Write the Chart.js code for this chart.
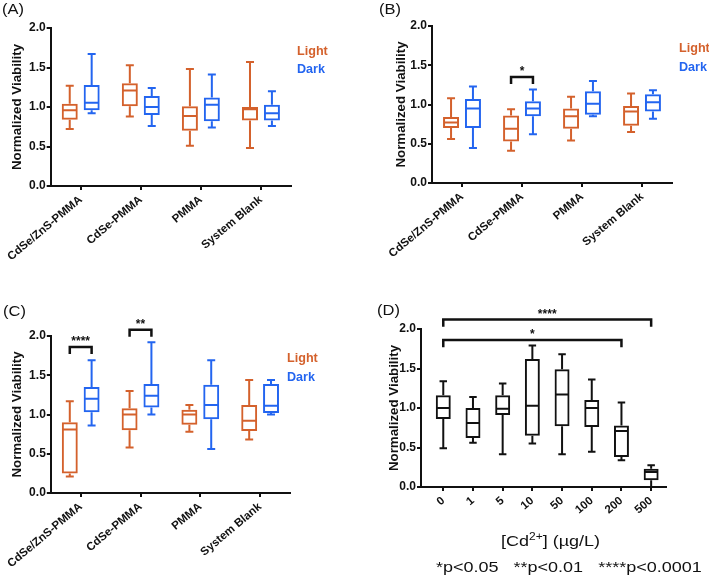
<!DOCTYPE html>
<html>
<head>
<meta charset="utf-8">
<script src="https://cdn.jsdelivr.net/npm/chart.js@4"></script>
<style>
body { margin: 0; background: #fff; width: 709px; height: 579px; position: relative; overflow: hidden;
       font-family: "Liberation Sans", Arial, sans-serif; color: #111; }
canvas { position: absolute; }
.t { position: absolute; white-space: nowrap; line-height: 18px; }
.tag { font-size: 15px; transform: scaleX(1.1); transform-origin: left center; }
.lg { font-size: 12px; font-weight: bold; transform: scaleX(1.05); transform-origin: left center; }
.wide { font-size: 15px; transform: scaleX(1.2); transform-origin: left center; }
.light { color: #d4612c; }
.dark { color: #2365f0; }
</style>
</head>
<body>
<canvas id="chartA" width="354" height="290" style="left:0;top:0"></canvas>
<canvas id="chartB" width="355" height="290" style="left:354px;top:0"></canvas>
<canvas id="chartC" width="354" height="289" style="left:0;top:290px"></canvas>
<canvas id="chartD" width="355" height="289" style="left:354px;top:290px"></canvas>

<div class="t tag" style="left:2px;top:0">(A)</div>
<div class="t tag" style="left:379px;top:0">(B)</div>
<div class="t tag" style="left:3px;top:302px">(C)</div>
<div class="t tag" style="left:377px;top:301px">(D)</div>

<div class="t lg light" style="left:297px;top:42px">Light</div>
<div class="t lg dark" style="left:297px;top:60px">Dark</div>
<div class="t lg light" style="left:679px;top:39px">Light</div>
<div class="t lg dark" style="left:679px;top:58px">Dark</div>
<div class="t lg light" style="left:287px;top:349px">Light</div>
<div class="t lg dark" style="left:287px;top:368px">Dark</div>

<div class="t wide" style="left:501px;top:528px">[Cd<sup style="font-size:10px">2+</sup>] (µg/L)</div>
<div class="t wide" style="left:436px;top:558px">*p&lt;0.05&nbsp;&nbsp;&nbsp;**p&lt;0.01&nbsp;&nbsp;&nbsp;****p&lt;0.0001</div>

<script>
const groups = ["CdSe/ZnS-PMMA", "CdSe-PMMA", "PMMA", "System Blank"];
const doses = ["0", "1", "5", "10", "50", "100", "200", "500"];
const yTicks = [0, 0.5, 1.0, 1.5, 2.0];

// each box: [min, q1, median, q3, max]
const aLight = [[0.72, 0.84, 0.96, 1.04, 1.27], [0.88, 1.01, 1.21, 1.30, 1.53], [0.51, 0.70, 0.885, 1.01, 1.48], [0.48, 0.83, 0.97, 1.00, 1.57]];
const aDark  = [[0.92, 0.96, 1.055, 1.28, 1.67], [0.76, 0.90, 1.00, 1.14, 1.24], [0.74, 0.82, 1.03, 1.12, 1.41], [0.76, 0.83, 0.92, 1.03, 1.20]];
const bLight = [[0.56, 0.70, 0.77, 0.84, 1.08], [0.41, 0.53, 0.69, 0.86, 0.94], [0.54, 0.69, 0.85, 0.95, 1.10], [0.65, 0.73, 0.91, 0.98, 1.14]];
const bDark  = [[0.445, 0.70, 0.95, 1.07, 1.23], [0.62, 0.85, 0.95, 1.04, 1.19], [0.85, 0.87, 1.01, 1.17, 1.30], [0.82, 0.91, 1.03, 1.13, 1.18]];
const cLight = [[0.21, 0.25, 0.81, 0.90, 1.17], [0.58, 0.80, 1.00, 1.08, 1.30], [0.78, 0.87, 1.00, 1.06, 1.12], [0.68, 0.79, 0.92, 1.12, 1.44]];
const cDark  = [[0.86, 1.03, 1.20, 1.35, 1.69], [1.00, 1.09, 1.24, 1.39, 1.92], [0.56, 0.94, 1.12, 1.38, 1.69], [1.00, 1.02, 1.11, 1.39, 1.44]];
const dCd    = [[0.49, 0.86, 1.00, 1.16, 1.34], [0.56, 0.62, 0.81, 1.00, 1.14], [0.415, 0.91, 0.99, 1.16, 1.31], [0.55, 0.65, 1.03, 1.62, 1.79],
                [0.415, 0.77, 1.17, 1.49, 1.68], [0.445, 0.76, 1.00, 1.10, 1.36], [0.34, 0.38, 0.71, 0.78, 1.07], [0.0, 0.085, 0.19, 0.23, 0.275]];

// significance brackets: from/to = [datasetIndex, index]
const bSig = [{ from: [0, 1], to: [1, 1], top: 1.35, drop: 1.26, label: "*" }];
const cSig = [{ from: [0, 0], to: [1, 0], top: 1.86, drop: 1.77, label: "****" },
              { from: [0, 1], to: [1, 1], top: 2.08, drop: 1.99, label: "**" }];
const dSig = [{ from: [0, 0], to: [0, 7], top: 2.12, drop: 2.03, label: "****" },
              { from: [0, 0], to: [0, 6], top: 1.86, drop: 1.77, label: "*" }];

const ink = "#111";
const orange = "#d4612c";
const blue = "#2365f0";
const sigFor = { chartA: [], chartB: bSig, chartC: cSig, chartD: dSig };

Chart.defaults.font.family = '"Liberation Sans", Arial, sans-serif';

const boxPlugin = {
    id: "boxWhisker",
    afterDatasetsDraw(chart) {
        const ctx = chart.ctx;
        const y = chart.scales.y;
        chart.data.datasets.forEach((ds, di) => {
            const meta = chart.getDatasetMeta(di);
            ctx.save();
            ctx.strokeStyle = ds.borderColor;
            ctx.lineWidth = 2;
            meta.data.forEach((bar, i) => {
                const [mn, q1, md, q3, mx] = ds.stats[i];
                const half = bar.width / 2;
                const cap = bar.width * 0.25;
                ctx.beginPath();
                ctx.moveTo(bar.x, y.getPixelForValue(q3));
                ctx.lineTo(bar.x, y.getPixelForValue(mx));
                ctx.moveTo(bar.x - cap, y.getPixelForValue(mx));
                ctx.lineTo(bar.x + cap, y.getPixelForValue(mx));
                ctx.moveTo(bar.x, y.getPixelForValue(q1));
                ctx.lineTo(bar.x, y.getPixelForValue(mn));
                ctx.moveTo(bar.x - cap, y.getPixelForValue(mn));
                ctx.lineTo(bar.x + cap, y.getPixelForValue(mn));
                ctx.moveTo(bar.x - half + 1, y.getPixelForValue(md));
                ctx.lineTo(bar.x + half - 1, y.getPixelForValue(md));
                ctx.stroke();
            });
            ctx.restore();
        });

        const sig = sigFor[chart.canvas.id] || [];
        ctx.save();
        ctx.strokeStyle = ink;
        ctx.fillStyle = ink;
        ctx.lineWidth = 2.5;
        ctx.font = 'bold 12px "Liberation Sans", Arial, sans-serif';
        ctx.textAlign = "center";
        ctx.textBaseline = "alphabetic";
        sig.forEach((s) => {
            const x1 = chart.getDatasetMeta(s.from[0]).data[s.from[1]].x;
            const x2 = chart.getDatasetMeta(s.to[0]).data[s.to[1]].x;
            const yt = y.getPixelForValue(s.top);
            const yd = y.getPixelForValue(s.drop);
            ctx.beginPath();
            ctx.moveTo(x1, yd);
            ctx.lineTo(x1, yt);
            ctx.lineTo(x2, yt);
            ctx.lineTo(x2, yd);
            ctx.stroke();
            ctx.fillText(s.label, (x1 + x2) / 2, yt - 2);
        });
        ctx.restore();
    },
};

function yAxis(width) {
    return {
        min: 0,
        max: 2,
        afterFit: (s) => { s.width = width; },
        afterBuildTicks: (s) => { s.ticks = yTicks.map((v) => ({ value: v })); },
        border: { color: ink, width: 2 },
        grid: { drawOnChartArea: false, tickLength: 4, color: ink, lineWidth: 2 },
        ticks: { color: ink, padding: 1, font: { size: 12, weight: "bold" }, callback: (v) => v.toFixed(1) },
        title: { display: true, text: "Normalized Viability", color: ink, font: { size: 13.3, weight: "bold" }, padding: { top: 9, bottom: 0 } },
    };
}

function xAxis(height, extra) {
    return Object.assign({
        afterFit: (s) => { s.height = height; },
        border: { color: ink, width: 2 },
        grid: { drawOnChartArea: false, offset: false, tickLength: 4, color: ink, lineWidth: 2 },
        ticks: { color: ink, padding: 3, autoSkip: false, minRotation: 40, maxRotation: 40, font: { size: 11.5, weight: "bold" } },
    }, extra);
}

function makePanel(id, area, padLeft, labels, datasets, xExtra) {
    const el = document.getElementById(id);
    return new Chart(el, {
        type: "bar",
        data: { labels: labels, datasets: datasets },
        options: {
            responsive: false,
            animation: false,
            layout: { padding: { left: padLeft, top: area.top, right: el.width - area.right, bottom: 0 } },
            plugins: { legend: { display: false }, tooltip: { enabled: false } },
            scales: { x: xAxis(el.height - area.bottom, xExtra), y: yAxis(area.left - padLeft) },
        },
        plugins: [boxPlugin],
    });
}

function boxSet(label, stats, color) {
    return {
        label: label,
        stats: stats,
        data: stats.map((s) => [s[1], s[3]]),
        backgroundColor: "rgba(0,0,0,0)",
        borderColor: color,
        borderWidth: 2,
        borderSkipped: false,
        categoryPercentage: 0.73,
        barPercentage: 0.73,
    };
}

document.addEventListener("DOMContentLoaded", () => {
    makePanel("chartA", { left: 50, right: 291, top: 28, bottom: 186 }, 0, groups,
        [boxSet("Light", aLight, orange), boxSet("Dark", aDark, blue)], { offset: true });
    makePanel("chartB", { left: 78, right: 318, top: 26, bottom: 183 }, 30, groups,
        [boxSet("Light", bLight, orange), boxSet("Dark", bDark, blue)], { offset: true });
    makePanel("chartC", { left: 50, right: 290, top: 46, bottom: 203 }, 0, groups,
        [boxSet("Light", cLight, orange), boxSet("Dark", cDark, blue)], { offset: true });

    const dSet = Object.assign(boxSet("Cd", dCd, ink), {
        data: dCd.map((s, i) => ({ x: i, y: [s[1], s[3]] })),
        categoryPercentage: 0.56,
        barPercentage: 0.9,
    });
    const dX = {
        type: "linear",
        min: -0.75,
        max: 7.5,
        offset: false,
        afterBuildTicks: (s) => { s.ticks = doses.map((_, i) => ({ value: i })); },
    };
    const d = makePanel("chartD", { left: 67, right: 312, top: 39, bottom: 197 }, 23, doses, [dSet], dX);
    d.options.scales.x.ticks.callback = (v) => doses[v];
    d.update();
});
</script>
</body>
</html>
